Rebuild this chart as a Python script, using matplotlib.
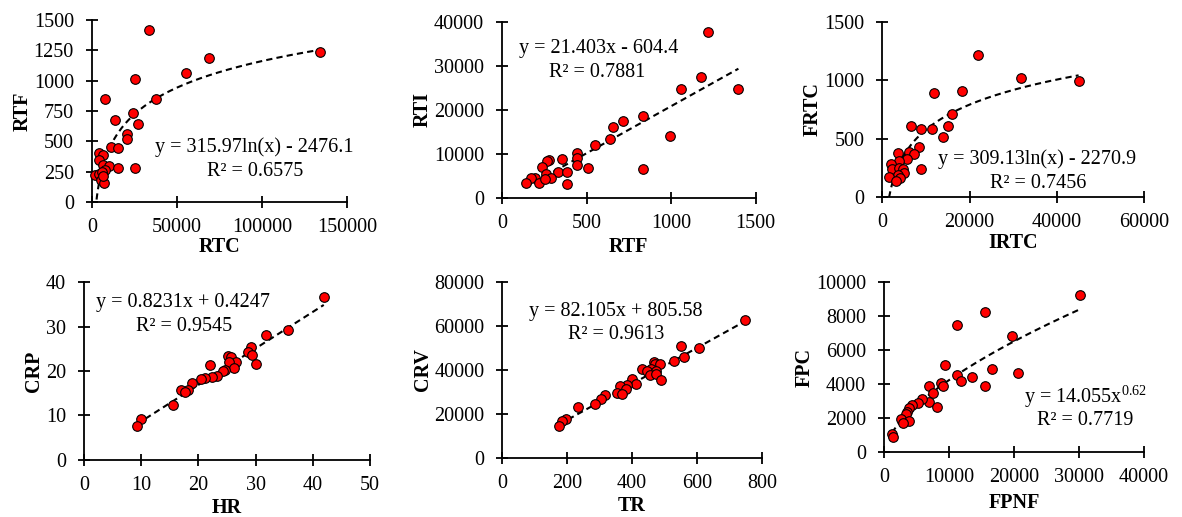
import numpy as np
import matplotlib.pyplot as plt

plt.rcParams['font.family'] = ['Liberation Serif', 'DejaVu Serif']
plt.rcParams['mathtext.fontset'] = 'custom'
plt.rcParams['mathtext.rm'] = 'Liberation Serif'

# RTC vs RTF
rtc = [33700, 134000, 68800, 55300, 25500, 7840, 37800, 23900, 13700, 27000,
       20400, 20400, 11000, 15500, 4100, 6660, 3900, 6660, 10200, 15500,
       25500, 7840, 1570, 4100, 5680, 5100, 7250, 6660]
rtf = [1414, 1240, 1183, 1064, 1011, 847, 847, 731, 678, 644,
       564, 522, 453, 447, 400, 386, 350, 308, 294, 283,
       278, 261, 225, 233, 244, 183, 156, 211]

# RTF vs RTI
rtf2 = [1221, 1176, 1059, 1398, 834, 718, 659, 996, 637, 552, 444, 444, 353,
        280, 264, 444, 237, 509, 834, 333, 385, 258, 290, 197, 172, 221, 142,
        385, 254]
rti = [37730, 27500, 24700, 24700, 18570, 17430, 16000, 14090, 13270, 11900,
       10160, 9090, 8800, 8500, 8430, 7360, 7050, 6750, 6600, 5910, 5910, 5460,
       4550, 4550, 4400, 3410, 3410, 3180, 4250]

# IRTC vs FRTC
irtc = [21930, 31780, 44990, 18260, 11920, 15890, 6580, 15120, 8870, 11390,
        13980, 8330, 6120, 7190, 3530, 5730, 3830, 1920, 2150, 3870, 4670,
        8870, 4970, 3600, 1530, 4070, 3210]
frtc = [1216, 1019, 993, 910, 890, 711, 611, 611, 585, 585, 511, 428, 388, 368,
        377, 325, 311, 283, 240, 251, 240, 242, 203, 188, 174, 160, 137]

# HR vs CRP
hr = [41.9, 35.7, 31.8, 29.2, 28.6, 29.3, 30.1, 25.2, 25.7, 26.6, 25.3, 22.1,
      26.3, 24.7, 24.3, 23.3, 22.4, 21.2, 20.5, 18.8, 18.2, 16.9, 17.6, 15.5,
      10.0, 9.2]
crp = [36.7, 29.3, 28.1, 25.5, 24.2, 23.6, 21.5, 23.5, 23.2, 22.1, 22.0, 21.4,
       20.8, 20.2, 20.1, 18.8, 18.7, 18.4, 18.1, 17.4, 15.8, 15.7, 15.2, 12.4,
       9.1, 7.6]

# TR vs CRV
tr = [749, 551, 606, 560, 528, 467, 472, 486, 431, 459, 445, 475, 454, 473,
      488, 399, 412, 384, 363, 381, 353, 370, 318, 304, 287, 234, 196, 185, 175]
crv = [62740, 50890, 49840, 46020, 44060, 43740, 42830, 42520, 40410, 40260,
       39500, 39500, 37680, 37990, 35400, 35700, 33580, 33120, 32670, 31300,
       29610, 29020, 28570, 26600, 24470, 22960, 17770, 16860, 14440]

# FPNF vs FPC
fpnf = [30110, 15560, 11200, 19720, 9310, 16550, 20600, 11250, 13560, 11770,
        8780, 9050, 6930, 15560, 7460, 6930, 5860, 5240, 8070, 4220, 3810, 3540,
        3300, 2530, 3810, 2930, 1190, 1290]
fpc = [9236, 8234, 7467, 6855, 5128, 4892, 4675, 4538, 4420, 4185, 4067, 3909,
       3890, 3890, 3497, 2966, 3104, 2908, 2633, 2770, 2574, 2377, 2240, 1945,
       1827, 1729, 1081, 884]

FS = 14.5


def panel(rect, x, y, fit, xlim, xticks, ylim, yticks, xlabel, ylabel, eq, r2, eqpos, r2pos, xlpad):
    ax = fig.add_axes(rect)
    x = np.array(x, float)
    xs = np.linspace(x.min(), x.max(), 200)
    ax.plot(xs, fit(xs), '--', color='black', lw=1.5, dashes=(3, 2), zorder=2)
    ax.scatter(x, y, s=48, color='#ff0000', edgecolors='black', linewidths=0.8, zorder=3, clip_on=False)
    ax.set_xlim(xlim)
    ax.set_ylim(ylim)
    ax.set_xticks(xticks)
    ax.set_yticks(yticks)
    for s in ['top', 'right']:
        ax.spines[s].set_visible(False)
    for s in ['left', 'bottom']:
        ax.spines[s].set_linewidth(1.3)
    ax.tick_params(direction='inout', length=8, width=1.3, labelsize=FS)
    ax.tick_params(axis='x', pad=7.5)
    ax.tick_params(axis='y', pad=9)
    ax.set_xlabel(xlabel, fontsize=FS, fontweight='bold', labelpad=xlpad)
    ax.set_ylabel(ylabel, fontsize=FS, fontweight='bold', labelpad=1)
    ax.text(eqpos[0], eqpos[1], eq, transform=ax.transAxes, ha='center', va='center', fontsize=FS)
    ax.text(r2pos[0], r2pos[1], r2, transform=ax.transAxes, ha='center', va='center', fontsize=FS)
    return ax


fig = plt.figure(figsize=(11.82, 5.17), dpi=100)

panel([0.0778, 0.6093, 0.2157, 0.352], rtc, rtf,
      lambda v: 315.97 * np.log(v) - 2476.1,
      (0, 150000), [0, 50000, 100000, 150000], (0, 1500), range(0, 1501, 250),
      'RTC', 'RTF', 'y = 315.97ln(x) - 2476.1', 'R² = 0.6575',
      (0.635, 0.304), (0.64, 0.167), 0)

panel([0.4247, 0.6176, 0.2146, 0.3404], rtf2, rti,
      lambda v: 21.403 * v - 604.4,
      (0, 1500), [0, 500, 1000, 1500], (0, 40000), range(0, 40001, 10000),
      'RTF', 'RTI', 'y = 21.403x - 604.4', 'R² = 0.7881',
      (0.382, 0.849), (0.377, 0.712), 3)

panel([0.7465, 0.619, 0.2214, 0.339], irtc, frtc,
      lambda v: 309.13 * np.log(v) - 2270.9,
      (0, 60000), [0, 20000, 40000, 60000], (0, 1500), range(0, 1501, 500),
      'IRTC', 'FRTC', 'y = 309.13ln(x) - 2270.9', 'R² = 0.7456',
      (0.59, 0.217), (0.595, 0.078), 1)

panel([0.0711, 0.1108, 0.242, 0.343], hr, crp,
      lambda v: 0.8231 * v + 0.4247,
      (0, 50), range(0, 51, 10), (0, 40), range(0, 41, 10),
      'HR', 'CRP', 'y = 0.8231x + 0.4247', 'R² = 0.9545',
      (0.346, 0.887), (0.35, 0.754), 2.5)

panel([0.425, 0.1147, 0.2195, 0.3393], tr, crv,
      lambda v: 82.105 * v + 805.58,
      (0, 800), range(0, 801, 200), (0, 80000), range(0, 80001, 20000),
      'TR', 'CRV', 'y = 82.105x + 805.58', 'R² = 0.9613',
      (0.439, 0.832), (0.439, 0.70), 2.5)

panel([0.7481, 0.1257, 0.2197, 0.3282], fpnf, fpc,
      lambda v: 14.055 * v ** 0.62,
      (0, 40000), range(0, 40001, 10000), (0, 10000), range(0, 10001, 2000),
      'FPNF', 'FPC', r'y = 14.055x$^{\mathrm{0.62}}$', 'R² = 0.7719',
      (0.776, 0.326), (0.775, 0.183), 4)

fig.savefig('out.png', dpi=100)
